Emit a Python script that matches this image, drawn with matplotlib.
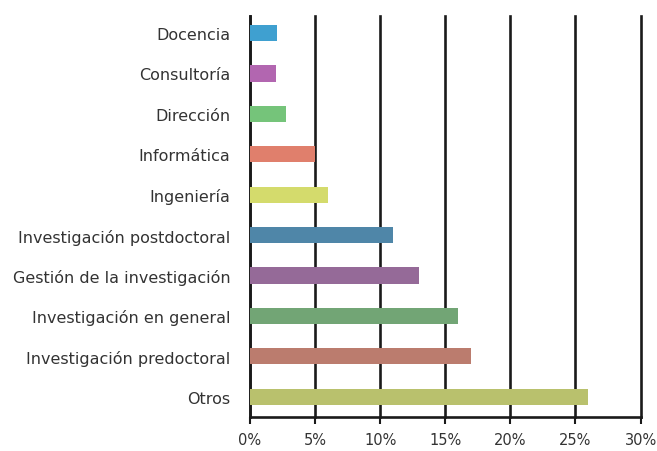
import numpy as np
import matplotlib
matplotlib.use('Agg')
import matplotlib.pyplot as plt
from matplotlib.ticker import PercentFormatter

# categories from bottom to top
categories = ['Otros', 'Investigación predoctoral', 'Investigación en general',
              'Gestión de la investigación', 'Investigación postdoctoral',
              'Ingeniería', 'Informática', 'Dirección', 'Consultoría', 'Docencia']
values = [26, 17, 16, 13, 11, 6, 5, 2.8, 2, 2.1]
colors = ['#b9c16d', '#bb7c6e', '#72a575', '#956a98', '#4f86a8',
          '#d4db6c', '#e07f6c', '#75c47a', '#b266b0', '#3fa0d0']
xticks = [0, 5, 10, 15, 20, 25, 30]

plt.rcParams['font.family'] = ['DejaVu Sans']

fig = plt.figure(figsize=(6.57, 4.52), dpi=100, facecolor='w')
ax = fig.add_axes([0.3805, 0.0752, 0.5945, 0.887])

y = np.arange(len(categories))
ax.barh(y, values, height=0.4, color=colors, zorder=3)

ax.set_xlim(0, 30)
ax.set_ylim(-0.5, 9.42)
ax.set_xticks(xticks)
ax.xaxis.set_major_formatter(PercentFormatter(decimals=0))
ax.set_yticks(y)
ax.set_yticklabels(categories)

# vertical grid lines
ax.grid(axis='x', color='#1a1a1a', linewidth=1.9, zorder=0)
ax.grid(axis='y', visible=False)
for gl in ax.get_xgridlines():
    gl.set_clip_on(False)

for s in ['top', 'right']:
    ax.spines[s].set_visible(False)
ax.spines['left'].set_linewidth(1.9)
ax.spines['left'].set_color('#1a1a1a')
ax.spines['bottom'].set_linewidth(1.9)
ax.spines['bottom'].set_color('#1a1a1a')

ax.tick_params(axis='y', length=0, pad=14, labelsize=11.5, labelcolor='#333333')
ax.tick_params(axis='x', direction='out', length=5, width=1.5, color='#1a1a1a',
               labelsize=10.5, labelcolor='#333333', pad=6)

fig.savefig('out.png', dpi=100)
